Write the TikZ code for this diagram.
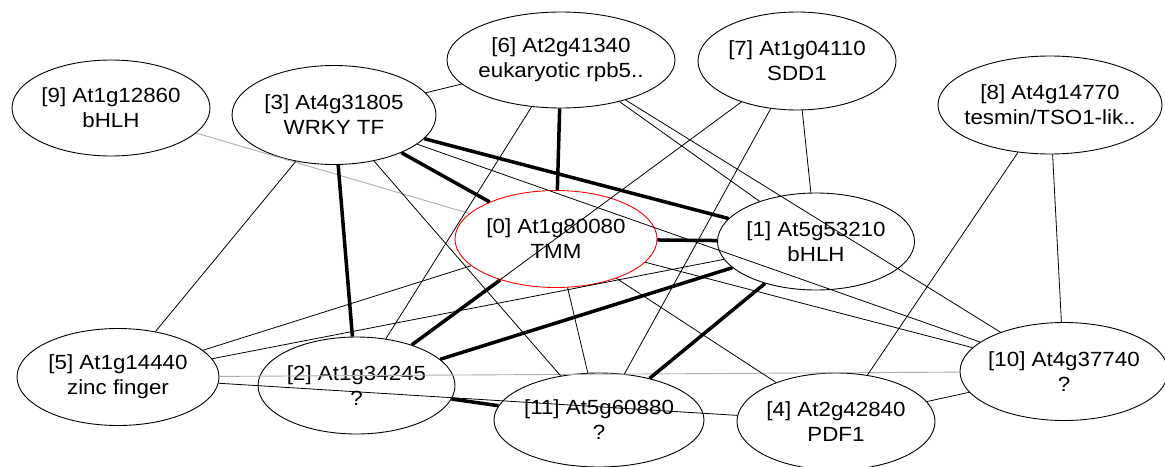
\documentclass[tikz,border=0pt]{standalone}
\usepackage{fontspec}
\setmainfont[FakeStretch=1.09]{Liberation Sans}
\usetikzlibrary{shapes.geometric}
\newcommand\twolines[2]{\makebox[0pt]{#1}\\\makebox[0pt]{#2}}
\begin{document}
\begin{tikzpicture}[x=1pt,y=-1pt,
  gene/.style={ellipse, draw=black, line width=0.9pt, inner sep=0pt, align=center,
    font=\fontsize{20.5}{25}\selectfont},
  hub/.style={gene, draw=red},
  weak/.style={draw=black, line width=0.8pt},
  strong/.style={draw=black, line width=3.5pt},
  faint/.style={draw=black!32, line width=0.9pt}]
\useasboundingbox (0,0) rectangle (1165,466);
% nodes
\node[hub,  minimum width=202pt, minimum height=97pt] (n0)  at (556,239)   {\twolines{[0] At1g80080}{TMM}};
\node[gene, minimum width=197pt, minimum height=97pt] (n1)  at (816,241.5) {\twolines{[1] At5g53210}{bHLH}};
\node[gene, minimum width=197pt, minimum height=97pt] (n2)  at (356.5,385.5) {\twolines{[2] At1g34245}{?}};
\node[gene, minimum width=204pt, minimum height=99pt] (n3)  at (334,115)   {\twolines{[3] At4g31805}{WRKY TF}};
\node[gene, minimum width=198pt, minimum height=97pt] (n4)  at (836,421.5) {\twolines{[4] At2g42840}{PDF1}};
\node[gene, minimum width=202pt, minimum height=97pt] (n5)  at (118,377)   {\twolines{[5] At1g14440}{zinc finger}};
\node[gene, minimum width=228pt, minimum height=96pt] (n6)  at (561,60)    {\twolines{[6] At2g41340}{eukaryotic rpb5..}};
\node[gene, minimum width=198pt, minimum height=98pt] (n7)  at (797,61)    {\twolines{[7] At1g04110}{SDD1}};
\node[gene, minimum width=224pt, minimum height=98pt] (n8)  at (1050,105)  {\twolines{[8] At4g14770}{tesmin/TSO1-lik..}};
\node[gene, minimum width=198pt, minimum height=96pt] (n9)  at (111,108)   {\twolines{[9] At1g12860}{bHLH}};
\node[gene, minimum width=208pt, minimum height=98pt] (n10) at (1064,371.5) {\twolines{[10] At4g37740}{?}};
\node[gene, minimum width=210pt, minimum height=94pt] (n11) at (599,420)   {\twolines{[11] At5g60880}{?}};
% faint edges
\draw[faint] (n9) -- (n0);
\draw[faint] (n5) -- (n10);
% weak edges
\draw[weak] (n3) -- (n6);
\draw[weak] (n3) -- (n5);
\draw[weak] (n3) -- (n11);
\draw[weak] (n3) -- (n10);
\draw[weak] (n6) -- (n2);
\draw[weak] (n6) -- (n1);
\draw[weak] (n6) -- (n10);
\draw[weak] (n7) -- (n2);
\draw[weak] (n7) -- (n11);
\draw[weak] (n7) -- (n1);
\draw[weak] (n8) -- (n4);
\draw[weak] (n8) -- (n10);
\draw[weak] (n4) -- (n10);
\draw[weak] (n0) -- (n4);
\draw[weak] (n0) -- (n10);
\draw[weak] (n0) -- (n11);
\draw[weak] (n0) -- (n5);
\draw[weak] (n1) -- (n5);
\draw[weak] (n5) -- (n4);
% strong edges
\draw[strong] (n3) -- (n0);
\draw[strong] (n3) -- (n1);
\draw[strong] (n6) -- (n0);
\draw[strong] (n0) -- (n1);
\draw[strong] (n3) -- (n2);
\draw[strong] (n0) -- (n2);
\draw[strong] (n1) -- (n2);
\draw[strong] (n1) -- (n11);
\draw[strong] (n2) -- (n11);
\end{tikzpicture}
\end{document}
